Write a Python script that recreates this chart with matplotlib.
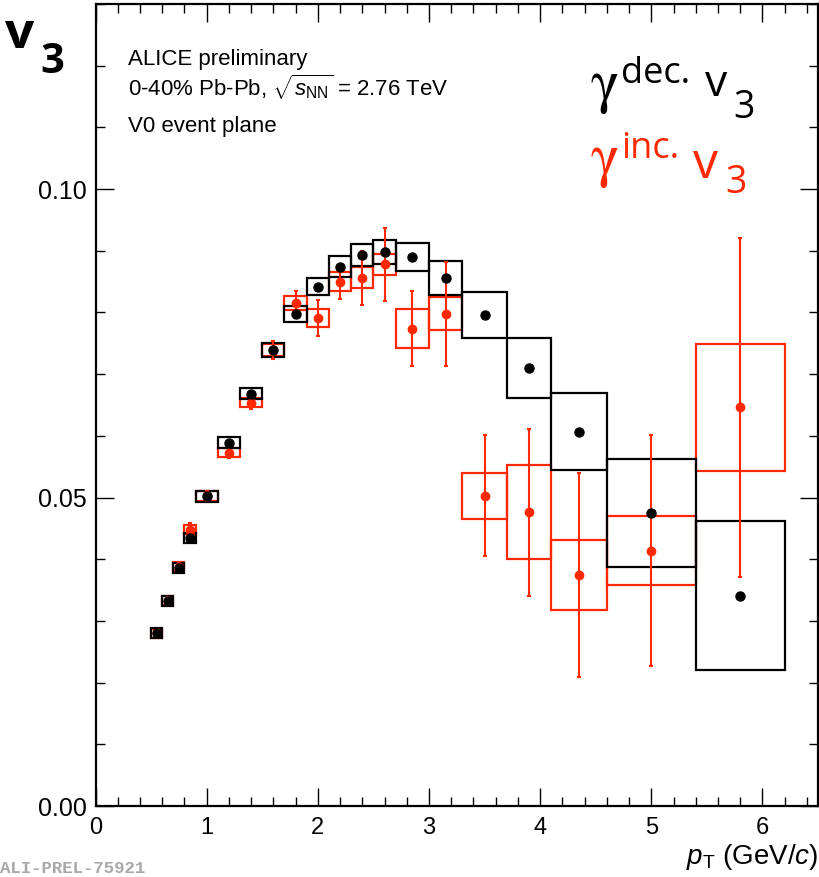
import numpy as np
import matplotlib
matplotlib.use("Agg")
import matplotlib.pyplot as plt
from matplotlib.patches import Rectangle
from matplotlib.ticker import MultipleLocator

plt.rcParams['font.family'] = ['Liberation Sans', 'DejaVu Sans']
plt.rcParams['mathtext.fontset'] = 'custom'
plt.rcParams['mathtext.rm'] = 'Liberation Sans'
plt.rcParams['mathtext.it'] = 'Liberation Sans:italic'
plt.rcParams['mathtext.bf'] = 'Liberation Sans:bold'

#--------------------- Data ---------------------
pt = [0.55, 0.65, 0.75, 0.85, 1.0, 1.2, 1.4, 1.6, 1.8, 2.0,
      2.2, 2.4, 2.6, 2.85, 3.15, 3.5, 3.9, 4.35, 5.0, 5.8]
bin_lo = [0.5, 0.6, 0.7, 0.8, 0.9, 1.1, 1.3, 1.5, 1.7, 1.9,
          2.1, 2.3, 2.5, 2.7, 3.0, 3.3, 3.7, 4.1, 4.6, 5.4]
bin_hi = [0.6, 0.7, 0.8, 0.9, 1.1, 1.3, 1.5, 1.7, 1.9, 2.1,
          2.3, 2.5, 2.7, 3.0, 3.3, 3.7, 4.1, 4.6, 5.4, 6.2]

# decay photon v3 (black)
v3_dec = [0.0280, 0.0333, 0.0386, 0.0434, 0.0502, 0.0589, 0.0668, 0.0739, 0.0797, 0.0842,
          0.0874, 0.0893, 0.0898, 0.0890, 0.0856, 0.0796, 0.0710, 0.0607, 0.0475, 0.0341]
sys_dec = [0.0008, 0.0008, 0.0008, 0.0008, 0.0009, 0.0009, 0.0009, 0.0011, 0.0013, 0.0014,
           0.0017, 0.0018, 0.0020, 0.0022, 0.0028, 0.0037, 0.0048, 0.0063, 0.0088, 0.0121]

# inclusive photon v3 (red)
v3_inc = [0.0280, 0.0333, 0.0388, 0.0448, 0.0503, 0.0573, 0.0654, 0.0739, 0.0815, 0.0791,
          0.0850, 0.0856, 0.0878, 0.0774, 0.0798, 0.0503, 0.0476, 0.0374, 0.0414, 0.0646]
stat_inc = [0.0005, 0.0005, 0.0006, 0.0010, 0.0008, 0.0009, 0.0011, 0.0015, 0.0020, 0.0029,
            0.0028, 0.0044, 0.0059, 0.0061, 0.0084, 0.0098, 0.0135, 0.0165, 0.0187, 0.0275]
sys_inc = [0.0007, 0.0007, 0.0007, 0.0007, 0.0008, 0.0008, 0.0008, 0.0010, 0.0011, 0.0014,
           0.0015, 0.0017, 0.0017, 0.0032, 0.0027, 0.0037, 0.0076, 0.0057, 0.0056, 0.0103]

RED = '#ff2800'
W, H = 819, 877

def px(x, y):
	# pixel position (from top-left) -> figure fraction
	return x / W, 1 - y / H

#--------------------- Figure ---------------------
fig = plt.figure(figsize=(W / 100, H / 100), dpi=100)
ax = fig.add_axes([95.5 / W, 1 - 806 / H, (818 - 95.5) / W, (806 - 4) / H])
ax.set_xlim(0, 6.5)
ax.set_ylim(0, 0.13)

# systematic boxes
for lo, hi, v, s in zip(bin_lo, bin_hi, v3_dec, sys_dec):
	ax.add_patch(Rectangle((lo, v - s), hi - lo, 2 * s, fill=False,
	                       edgecolor='black', lw=1.6, zorder=3))
for lo, hi, v, s in zip(bin_lo, bin_hi, v3_inc, sys_inc):
	ax.add_patch(Rectangle((lo, v - s), hi - lo, 2 * s, fill=False,
	                       edgecolor=RED, lw=1.6, zorder=2))

ax.errorbar(pt, v3_inc, yerr=stat_inc, fmt='o', color=RED, ms=6,
            elinewidth=1.5, capsize=1.5, capthick=1.5, zorder=4)
ax.plot(pt, v3_dec, 'o', color='black', ms=6.5, zorder=5)

# axes style (ROOT-like)
ax.xaxis.set_major_locator(MultipleLocator(1))
ax.xaxis.set_minor_locator(MultipleLocator(0.2))
ax.yaxis.set_major_locator(MultipleLocator(0.05))
ax.yaxis.set_minor_locator(MultipleLocator(0.01))
ax.yaxis.set_major_formatter(plt.FuncFormatter(lambda v, p: '%.2f' % v))
ax.tick_params(which='both', direction='in', top=True, right=True, width=1.0)
ax.tick_params(which='major', length=13)
ax.tick_params(which='minor', length=6.5)
ax.tick_params(axis='x', labelsize=17, pad=8)
ax.tick_params(axis='y', labelsize=18, pad=6)
for sp in ax.spines.values():
	sp.set_linewidth(1.6)

# texts inside the frame
fig.text(*px(128, 65), 'ALICE preliminary', fontsize=16, va='baseline')
fig.text(*px(128, 96), r'0-40% Pb-Pb, $\sqrt{s_{\rm NN}}$ = 2.76 TeV', fontsize=16, va='baseline')
fig.text(*px(128, 132), 'V0 event plane', fontsize=16, va='baseline')

# x axis title
fig.text(*px(818, 864), r'$p_{\rm T}$ (GeV/$c$)', fontsize=20, ha='right', va='baseline')

# big v3 on the left
fig.text(*px(5, 48), 'v', fontsize=37, fontweight='bold', family='Open Sans', va='baseline')
fig.text(*px(40, 73), '3', fontsize=30, fontweight='bold', family='Open Sans', va='baseline')

# hand-made legend
fig.text(*px(590, 101), r'$\mathrm{\gamma}$', fontsize=43, math_fontfamily='stix', va='baseline')
fig.text(*px(621, 83), 'dec.', fontsize=26, family='Open Sans', va='baseline')
fig.text(*px(705, 96), 'v', fontsize=32, family='Open Sans', va='baseline')
fig.text(*px(733, 118), '3', fontsize=27, family='Open Sans', va='baseline')

fig.text(*px(590, 175), r'$\mathrm{\gamma}$', fontsize=43, math_fontfamily='stix', color=RED, va='baseline')
fig.text(*px(621, 158), 'inc.', fontsize=26, family='Open Sans', color=RED, va='baseline')
fig.text(*px(693, 178), 'v', fontsize=36, family='Open Sans', color=RED, va='baseline')
fig.text(*px(725, 193), '3', fontsize=27, family='Open Sans', color=RED, va='baseline')

# watermark
fig.text(*px(0, 873), 'ALI-PREL-75921', fontsize=12.5, family='Liberation Mono',
         fontweight='bold', color='#a8a8a8', va='baseline')

fig.savefig('out.png', dpi=100)
